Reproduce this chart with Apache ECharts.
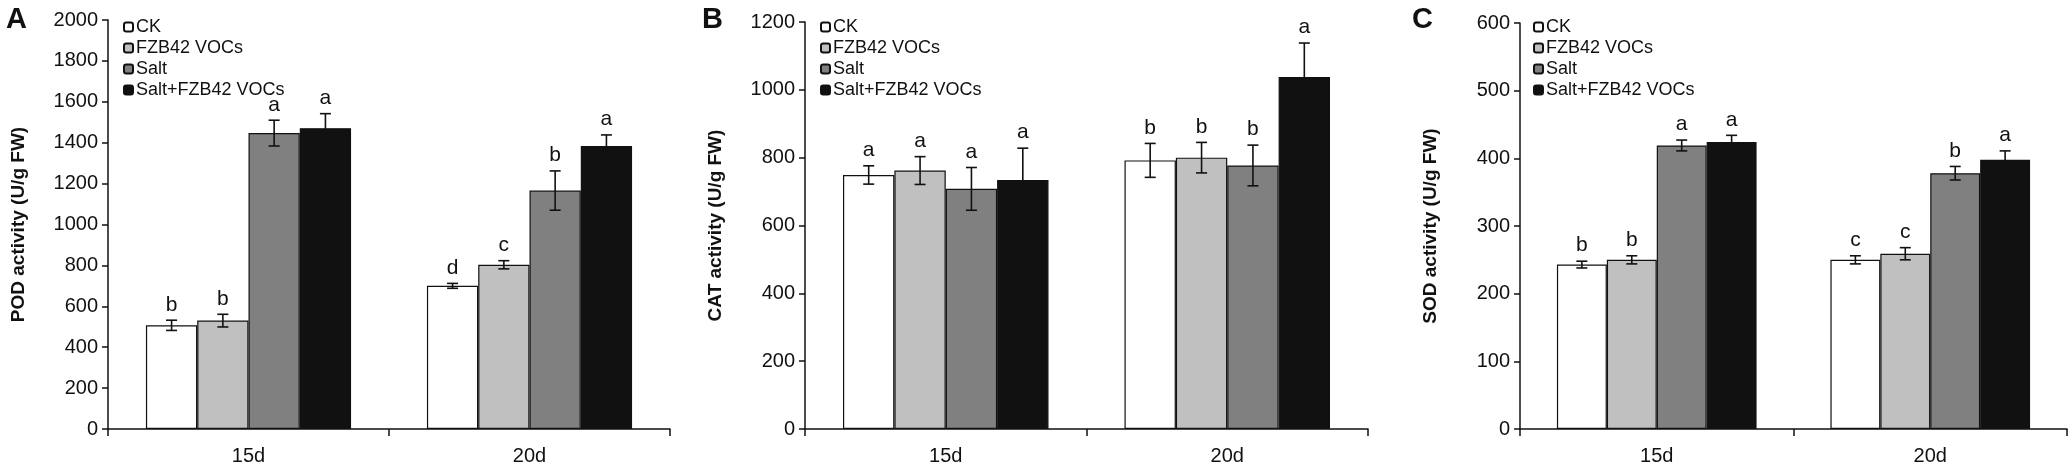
<!DOCTYPE html>
<html>
<head>
<meta charset="utf-8">
<script src="https://cdn.jsdelivr.net/npm/echarts@6/dist/echarts.min.js"></script>
<style>
  html, body { margin: 0; padding: 0; background: #fff; }
  #chart { width: 2072px; height: 473px; }
</style>
</head>
<body>
<div id="chart"></div>
<script>
// data, one inner array per treatment: [15d, 20d]
var categories = ['15d', '20d'];
var treatments = ['CK', 'FZB42 VOCs', 'Salt', 'Salt+FZB42 VOCs'];
var colors = ['#ffffff', '#c0c0c0', '#808080', '#111111'];

var podMean = [[507, 700], [530, 803], [1447, 1166], [1471, 1384]];
var podErr = [[25, 12], [31, 20], [63, 96], [71, 54]];
var podSig = [['b', 'd'], ['b', 'c'], ['a', 'b'], ['a', 'a']];

var catMean = [[749, 792], [762, 800], [708, 777], [734, 1038]];
var catErr = [[27, 50], [41, 45], [63, 60], [94, 100]];
var catSig = [['a', 'b'], ['a', 'b'], ['a', 'b'], ['a', 'a']];

var sodMean = [[243, 250], [250, 259], [419, 378], [424, 398]];
var sodErr = [[5, 6], [6, 9], [8, 10], [10, 13]];
var sodSig = [['b', 'c'], ['b', 'c'], ['a', 'b'], ['a', 'a']];

var panelLetters = ['A', 'B', 'C'];
var yTitles = ['POD activity (U/g FW)', 'CAT activity (U/g FW)', 'SOD activity (U/g FW)'];
var yMax = [2000, 1200, 600];
var yStep = [200, 200, 100];

var FONT = '"Liberation Sans", Arial, sans-serif';
var CAT_GAP = 0.27;

var panels = [
    {mean: podMean, err: podErr, sig: podSig, left: 108, top: 20, width: 562, height: 409, letterX: 6, legendX: 118},
    {mean: catMean, err: catErr, sig: catSig, left: 805, top: 22, width: 563, height: 407, letterX: 702, legendX: 815},
    {mean: sodMean, err: sodErr, sig: sodSig, left: 1520, top: 23, width: 547, height: 406, letterX: 1412, legendX: 1528}
];

function makeErrRender(sigList) {
    return function (params, api) {
        var cat = api.value(0), s = api.value(1), v = api.value(2), e = api.value(3);
        var band = api.size([1, 0])[0];
        var bw = band * (1 - CAT_GAP) / 4;
        var mid = api.coord([cat, v]);
        var x = mid[0] + (s - 1.5) * bw;
        var hi = api.coord([cat, v + e])[1];
        var lo = api.coord([cat, v - e])[1];
        var cap = 5.5;
        var st = {stroke: '#111', lineWidth: 1.6};
        return {
            type: 'group',
            children: [
                {type: 'line', shape: {x1: x, y1: hi, x2: x, y2: lo}, style: st},
                {type: 'line', shape: {x1: x - cap, y1: hi, x2: x + cap, y2: hi}, style: st},
                {type: 'line', shape: {x1: x - cap, y1: lo, x2: x + cap, y2: lo}, style: st},
                {type: 'text', style: {
                    text: sigList[params.dataIndex], x: x, y: hi - 5,
                    align: 'center', verticalAlign: 'bottom',
                    fontSize: 21, fontFamily: FONT, fill: '#111'
                }}
            ]
        };
    };
}

var option = {
    animation: false,
    backgroundColor: '#fff',
    textStyle: {fontFamily: FONT, color: '#111'},
    grid: [], xAxis: [], yAxis: [], series: [], legend: [], graphic: []
};

panels.forEach(function (p, k) {
    option.grid.push({left: p.left, top: p.top, width: p.width, height: p.height});
    option.xAxis.push({
        type: 'category', gridIndex: k, data: categories,
        axisLine: {lineStyle: {color: '#111', width: 1.5}},
        axisTick: {show: true, length: 7, lineStyle: {color: '#111', width: 1.5}},
        axisLabel: {color: '#111', fontSize: 20, fontFamily: FONT, margin: 17}
    });
    option.yAxis.push({
        type: 'value', gridIndex: k, min: 0, max: yMax[k], interval: yStep[k],
        name: yTitles[k], nameLocation: 'middle', nameGap: 80,
        nameTextStyle: {fontSize: 19, fontWeight: 'bold', color: '#111', fontFamily: FONT},
        axisLine: {show: true, lineStyle: {color: '#111', width: 1.5}},
        axisTick: {show: true, length: 6, lineStyle: {color: '#111', width: 1.5}},
        axisLabel: {color: '#111', fontSize: 20, fontFamily: FONT, margin: 10,
                    formatter: function (v) { return String(v); }},
        splitLine: {show: false}
    });
    treatments.forEach(function (name, s) {
        option.series.push({
            type: 'bar', name: name, xAxisIndex: k, yAxisIndex: k,
            data: p.mean[s], barGap: 0, barCategoryGap: (CAT_GAP * 100) + '%',
            itemStyle: {color: colors[s], borderColor: '#111', borderWidth: 1.2}
        });
    });
    var errData = [], sigList = [];
    treatments.forEach(function (name, s) {
        categories.forEach(function (c, ci) {
            errData.push([ci, s, p.mean[s][ci], p.err[s][ci]]);
            sigList.push(p.sig[s][ci]);
        });
    });
    option.series.push({
        type: 'custom', name: 'err' + k, xAxisIndex: k, yAxisIndex: k,
        renderItem: makeErrRender(sigList), data: errData, encode: {x: 0, y: 2}, z: 5
    });
    option.legend.push({
        data: treatments, orient: 'vertical', left: p.legendX, top: 13,
        itemWidth: 9, itemHeight: 9, itemGap: 3,
        textStyle: {fontSize: 18, fontFamily: FONT, color: '#111', padding: [0, 0, 0, -2]},
        selectedMode: false
    });
    option.graphic.push({
        type: 'text', left: p.letterX, top: 5,
        style: {text: panelLetters[k], fontSize: 29, fontWeight: 'bold', fontFamily: FONT, fill: '#111'}
    });
});

var chart = echarts.init(document.getElementById('chart'));
chart.setOption(option);
</script>
</body>
</html>
